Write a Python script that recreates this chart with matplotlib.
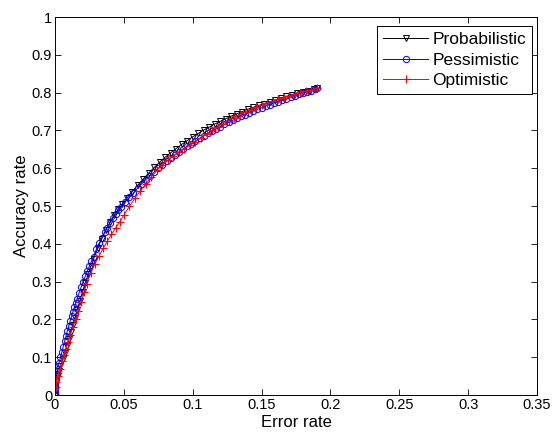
import matplotlib
matplotlib.use('Agg')
import matplotlib.pyplot as plt

# Probabilistic (black, triangles)
prob_x = [0, 0, 0.001, 0.002, 0.003, 0.004, 0.0055, 0.007, 0.0085, 0.010, 0.0115, 0.013, 0.0145,
          0.016, 0.018, 0.020, 0.022, 0.024, 0.026, 0.028, 0.031, 0.034, 0.037, 0.040, 0.043,
          0.046, 0.049, 0.052, 0.056, 0.060, 0.064, 0.068, 0.072, 0.076, 0.080, 0.084, 0.088,
          0.092, 0.096, 0.100, 0.104, 0.108, 0.112, 0.116, 0.120, 0.124, 0.128, 0.132, 0.136,
          0.140, 0.144, 0.148, 0.152, 0.156, 0.160, 0.164, 0.168, 0.172, 0.176, 0.180, 0.184,
          0.188, 0.190]
prob_y = [0, 0.02, 0.035, 0.05, 0.064, 0.078, 0.095, 0.112, 0.13, 0.148, 0.167, 0.186, 0.205,
          0.224, 0.249, 0.273, 0.297, 0.319, 0.34, 0.36, 0.388, 0.414, 0.437, 0.458, 0.477,
          0.492, 0.506, 0.52, 0.538, 0.555, 0.571, 0.587, 0.602, 0.616, 0.629, 0.641, 0.652,
          0.663, 0.673, 0.683, 0.692, 0.701, 0.709, 0.717, 0.724, 0.731, 0.738, 0.744, 0.750,
          0.756, 0.761, 0.766, 0.771, 0.776, 0.781, 0.786, 0.790, 0.794, 0.798, 0.802, 0.805,
          0.809, 0.811]

# Pessimistic (blue, circles)
pess_x = [0, 0, 0, 0, 0, 0, 0.0005, 0.001, 0.002, 0.003, 0.004, 0.005, 0.006, 0.007, 0.008,
          0.009, 0.010, 0.011, 0.012, 0.013, 0.014, 0.015, 0.016, 0.0175, 0.019, 0.0205, 0.022,
          0.0235, 0.025, 0.0265, 0.028, 0.030, 0.032, 0.034, 0.036, 0.038, 0.040, 0.042, 0.044,
          0.046, 0.048, 0.051, 0.054, 0.057, 0.060, 0.063, 0.066, 0.069, 0.072, 0.075, 0.078,
          0.081, 0.084, 0.087, 0.090, 0.093, 0.096, 0.099, 0.102, 0.105, 0.108, 0.111, 0.114,
          0.117, 0.120, 0.123, 0.126, 0.129, 0.132, 0.135, 0.138, 0.141, 0.144, 0.147, 0.150,
          0.153, 0.156, 0.159, 0.162, 0.165, 0.168, 0.171, 0.174, 0.177, 0.180, 0.183, 0.186,
          0.189, 0.190]
pess_y = [0, 0.006, 0.012, 0.018, 0.024, 0.03, 0.042, 0.055, 0.07, 0.085, 0.1, 0.114, 0.128,
          0.142, 0.156, 0.17, 0.183, 0.196, 0.208, 0.22, 0.232, 0.243, 0.254, 0.27, 0.285, 0.3,
          0.314, 0.328, 0.341, 0.354, 0.366, 0.385, 0.401, 0.416, 0.43, 0.443, 0.456, 0.468,
          0.479, 0.489, 0.498, 0.511, 0.523, 0.534, 0.548, 0.559, 0.57, 0.58, 0.59, 0.6, 0.609,
          0.618, 0.627, 0.635, 0.643, 0.651, 0.658, 0.665, 0.672, 0.679, 0.686, 0.692, 0.698,
          0.704, 0.71, 0.716, 0.721, 0.727, 0.732, 0.737, 0.742, 0.747, 0.751, 0.756, 0.76,
          0.764, 0.768, 0.772, 0.776, 0.78, 0.784, 0.788, 0.791, 0.795, 0.798, 0.802, 0.805,
          0.809, 0.811]

# Optimistic (red, plus)
opt_x = [0, 0.0005, 0.001, 0.002, 0.0035, 0.005, 0.0065, 0.008, 0.0095, 0.011, 0.013, 0.015,
         0.017, 0.019, 0.021, 0.023, 0.026, 0.029, 0.032, 0.035, 0.038, 0.041, 0.044, 0.047,
         0.050, 0.054, 0.058, 0.062, 0.066, 0.070, 0.074, 0.078, 0.082, 0.086, 0.090, 0.094,
         0.098, 0.102, 0.106, 0.110, 0.114, 0.118, 0.122, 0.126, 0.130, 0.134, 0.138, 0.142,
         0.146, 0.150, 0.154, 0.158, 0.162, 0.166, 0.170, 0.174, 0.178, 0.182, 0.186, 0.190]
opt_y = [0, 0.02, 0.035, 0.05, 0.07, 0.09, 0.105, 0.122, 0.14, 0.158, 0.18, 0.2, 0.223, 0.245,
         0.272, 0.295, 0.322, 0.347, 0.368, 0.388, 0.407, 0.425, 0.442, 0.458, 0.476, 0.499,
         0.52, 0.54, 0.559, 0.577, 0.594, 0.609, 0.622, 0.633, 0.643, 0.652, 0.661, 0.670,
         0.68, 0.69, 0.7, 0.709, 0.718, 0.726, 0.734, 0.741, 0.748, 0.755, 0.761, 0.767,
         0.772, 0.777, 0.782, 0.787, 0.791, 0.795, 0.799, 0.803, 0.807, 0.811]

x_ticks = [0, 0.05, 0.1, 0.15, 0.2, 0.25, 0.3, 0.35]
x_labels = ['0', '0.05', '0.1', '0.15', '0.2', '0.25', '0.3', '0.35']
y_ticks = [0, 0.1, 0.2, 0.3, 0.4, 0.5, 0.6, 0.7, 0.8, 0.9, 1]
y_labels = ['0', '0.1', '0.2', '0.3', '0.4', '0.5', '0.6', '0.7', '0.8', '0.9', '1']

plt.rcParams['font.family'] = ['Liberation Sans', 'DejaVu Sans']
plt.rcParams['font.size'] = 10.5

fig = plt.figure(figsize=(5.52, 4.36), dpi=100)
ax = fig.add_axes([0.0996, 0.094, 0.8734, 0.867])

ax.plot(prob_x, prob_y, color='black', marker='v', markersize=4.5, markerfacecolor='none',
        linewidth=0.7, markeredgewidth=0.7, label='Probabilistic')
ax.plot(pess_x, pess_y, color='blue', marker='o', markersize=4.5, markerfacecolor='none',
        linewidth=0.7, markeredgewidth=0.7, label='Pessimistic')
ax.plot(opt_x, opt_y, color='red', marker='+', markersize=6, linewidth=0.7,
        markeredgewidth=0.8, label='Optimistic')

ax.set_xlim(0, 0.35)
ax.set_ylim(0, 1)
ax.set_xticks(x_ticks)
ax.set_xticklabels(x_labels)
ax.set_yticks(y_ticks)
ax.set_yticklabels(y_labels)
ax.tick_params(direction='in', length=4, width=0.6, top=True, right=True, pad=2)
for s in ax.spines.values():
    s.set_linewidth(0.7)
ax.set_xlabel('Error rate', fontsize=12, labelpad=2)
ax.set_ylabel('Accuracy rate', fontsize=12, labelpad=2)

leg = ax.legend(loc='upper right', bbox_to_anchor=(0.99, 0.976), borderaxespad=0,
                fancybox=False, edgecolor='black', framealpha=1, fontsize=12.5,
                handlelength=2.6, borderpad=0.35, labelspacing=0.3, handletextpad=0.25)
leg.get_frame().set_linewidth(0.7)

plt.savefig('out.png', dpi=100)
